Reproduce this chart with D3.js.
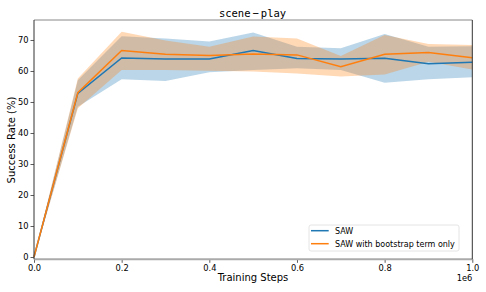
<!DOCTYPE html>
<html>
<head>
<meta charset="utf-8">
<script src="https://cdn.jsdelivr.net/npm/d3@7"></script>
<style>
  body { margin: 0; background: #fff; }
  text { font-family: "DejaVu Sans", sans-serif; fill: #000; }
</style>
</head>
<body>
<svg id="chart" width="486" height="292"></svg>
<script>
// 训练步数 (x1e6)
const steps = [0, 0.1, 0.2, 0.3, 0.4, 0.5, 0.6, 0.7, 0.8, 0.9, 1.0];

// SAW
const sawMean  = [0, 52.8, 64.2, 63.9, 63.9, 66.6, 64.0, 63.9, 64.1, 62.3, 62.8];
const sawUpper = [0, 57.0, 71.2, 70.5, 69.5, 72.4, 67.8, 67.3, 71.9, 67.8, 68.0];
const sawLower = [0, 48.5, 57.3, 56.8, 59.6, 60.3, 60.9, 60.3, 56.2, 57.3, 58.0];

// SAW with bootstrap term only
const bootMean  = [0, 53.0, 66.6, 65.4, 65.0, 65.5, 65.2, 61.4, 65.4, 66.0, 64.3];
const bootUpper = [0, 57.6, 72.7, 69.8, 67.8, 71.1, 70.5, 64.8, 71.6, 68.7, 68.4];
const bootLower = [0, 48.0, 60.3, 60.3, 60.1, 59.8, 59.2, 58.2, 58.9, 63.0, 60.5];

const xTicks = [0, 0.2, 0.4, 0.6, 0.8, 1.0];
const yTicks = [0, 10, 20, 30, 40, 50, 60, 70];

const series = [
  { name: "SAW", color: "#1f77b4", mean: sawMean, upper: sawUpper, lower: sawLower },
  { name: "SAW with bootstrap term only", color: "#ff7f0e", mean: bootMean, upper: bootUpper, lower: bootLower }
];

const svg = d3.select("#chart");
const plotL = 34, plotR = 472.3, plotT = 20, plotB = 259.3;

const x = d3.scaleLinear().domain([0, 1]).range([plotL, plotR]);
const y = d3.scaleLinear().domain([-0.74, 76.45]).range([plotB, plotT]);

// 阴影带
series.forEach(s => {
  const area = d3.area()
    .x((d, i) => x(steps[i]))
    .y0((d, i) => y(s.lower[i]))
    .y1((d, i) => y(s.upper[i]));
  svg.append("path")
    .datum(s.mean)
    .attr("d", area)
    .attr("fill", s.color)
    .attr("fill-opacity", 0.3);
});

// 均值线
series.forEach(s => {
  const line = d3.line()
    .x((d, i) => x(steps[i]))
    .y(d => y(d));
  svg.append("path")
    .datum(s.mean)
    .attr("d", line)
    .attr("fill", "none")
    .attr("stroke", s.color)
    .attr("stroke-width", 1.5);
});

// 坐标轴
const xAxis = svg.append("g")
  .attr("transform", `translate(0,${plotB})`)
  .call(d3.axisBottom(x).tickValues(xTicks).tickFormat(d3.format(".1f")).tickSize(3.5).tickPadding(2));
const yAxis = svg.append("g")
  .attr("transform", `translate(${plotL},0)`)
  .call(d3.axisLeft(y).tickValues(yTicks).tickSize(3.5).tickPadding(2));

[xAxis, yAxis].forEach(g => {
  g.select(".domain").remove();
  g.selectAll("text").style("font-family", "DejaVu Sans").style("font-size", "8.3px").attr("fill", "#000");
  g.selectAll(".tick line").attr("stroke", "#333").attr("stroke-width", 0.8);
});

// 边框
svg.append("line").attr("x1", plotL).attr("x2", plotR).attr("y1", plotT).attr("y2", plotT)
  .attr("stroke", "#888").attr("stroke-width", 1);
svg.append("line").attr("x1", plotL).attr("x2", plotR).attr("y1", plotB).attr("y2", plotB)
  .attr("stroke", "#aaa").attr("stroke-width", 2);
svg.append("line").attr("x1", plotL).attr("x2", plotL).attr("y1", plotT).attr("y2", plotB)
  .attr("stroke", "#333").attr("stroke-width", 1);
svg.append("line").attr("x1", plotR).attr("x2", plotR).attr("y1", plotT).attr("y2", plotB)
  .attr("stroke", "#333").attr("stroke-width", 1);

// 标题
const title = svg.append("text")
  .attr("x", 252.5).attr("y", 16.5)
  .attr("text-anchor", "middle")
  .style("font-family", "DejaVu Sans Mono")
  .style("font-size", "10.5px");
title.append("tspan").text("scene");
title.append("tspan").attr("dx", 2).text("−");
title.append("tspan").attr("dx", 2).text("play");

// 轴标题
svg.append("text")
  .attr("x", 253).attr("y", 281)
  .attr("text-anchor", "middle")
  .style("font-size", "10px")
  .text("Training Steps");
svg.append("text")
  .attr("transform", "translate(15,140) rotate(-90)")
  .attr("text-anchor", "middle")
  .style("font-size", "10px")
  .text("Success Rate (%)");
svg.append("text")
  .attr("x", plotR).attr("y", 281)
  .attr("text-anchor", "end")
  .style("font-size", "8.3px")
  .text("1e6");

// 图例
const legend = svg.append("g").attr("transform", "translate(309,225)");
legend.append("rect")
  .attr("width", 150).attr("height", 26)
  .attr("rx", 2)
  .attr("fill", "#fff").attr("fill-opacity", 0.8)
  .attr("stroke", "#ddd").attr("stroke-width", 0.8);
series.forEach((s, i) => {
  const ly = 5.7 + i * 13;
  legend.append("line")
    .attr("x1", 2).attr("x2", 19.7).attr("y1", ly).attr("y2", ly)
    .attr("stroke", s.color).attr("stroke-width", 1.5);
  legend.append("text")
    .attr("x", 26).attr("y", ly + 3)
    .style("font-size", "8px")
    .text(s.name);
});
</script>
</body>
</html>
